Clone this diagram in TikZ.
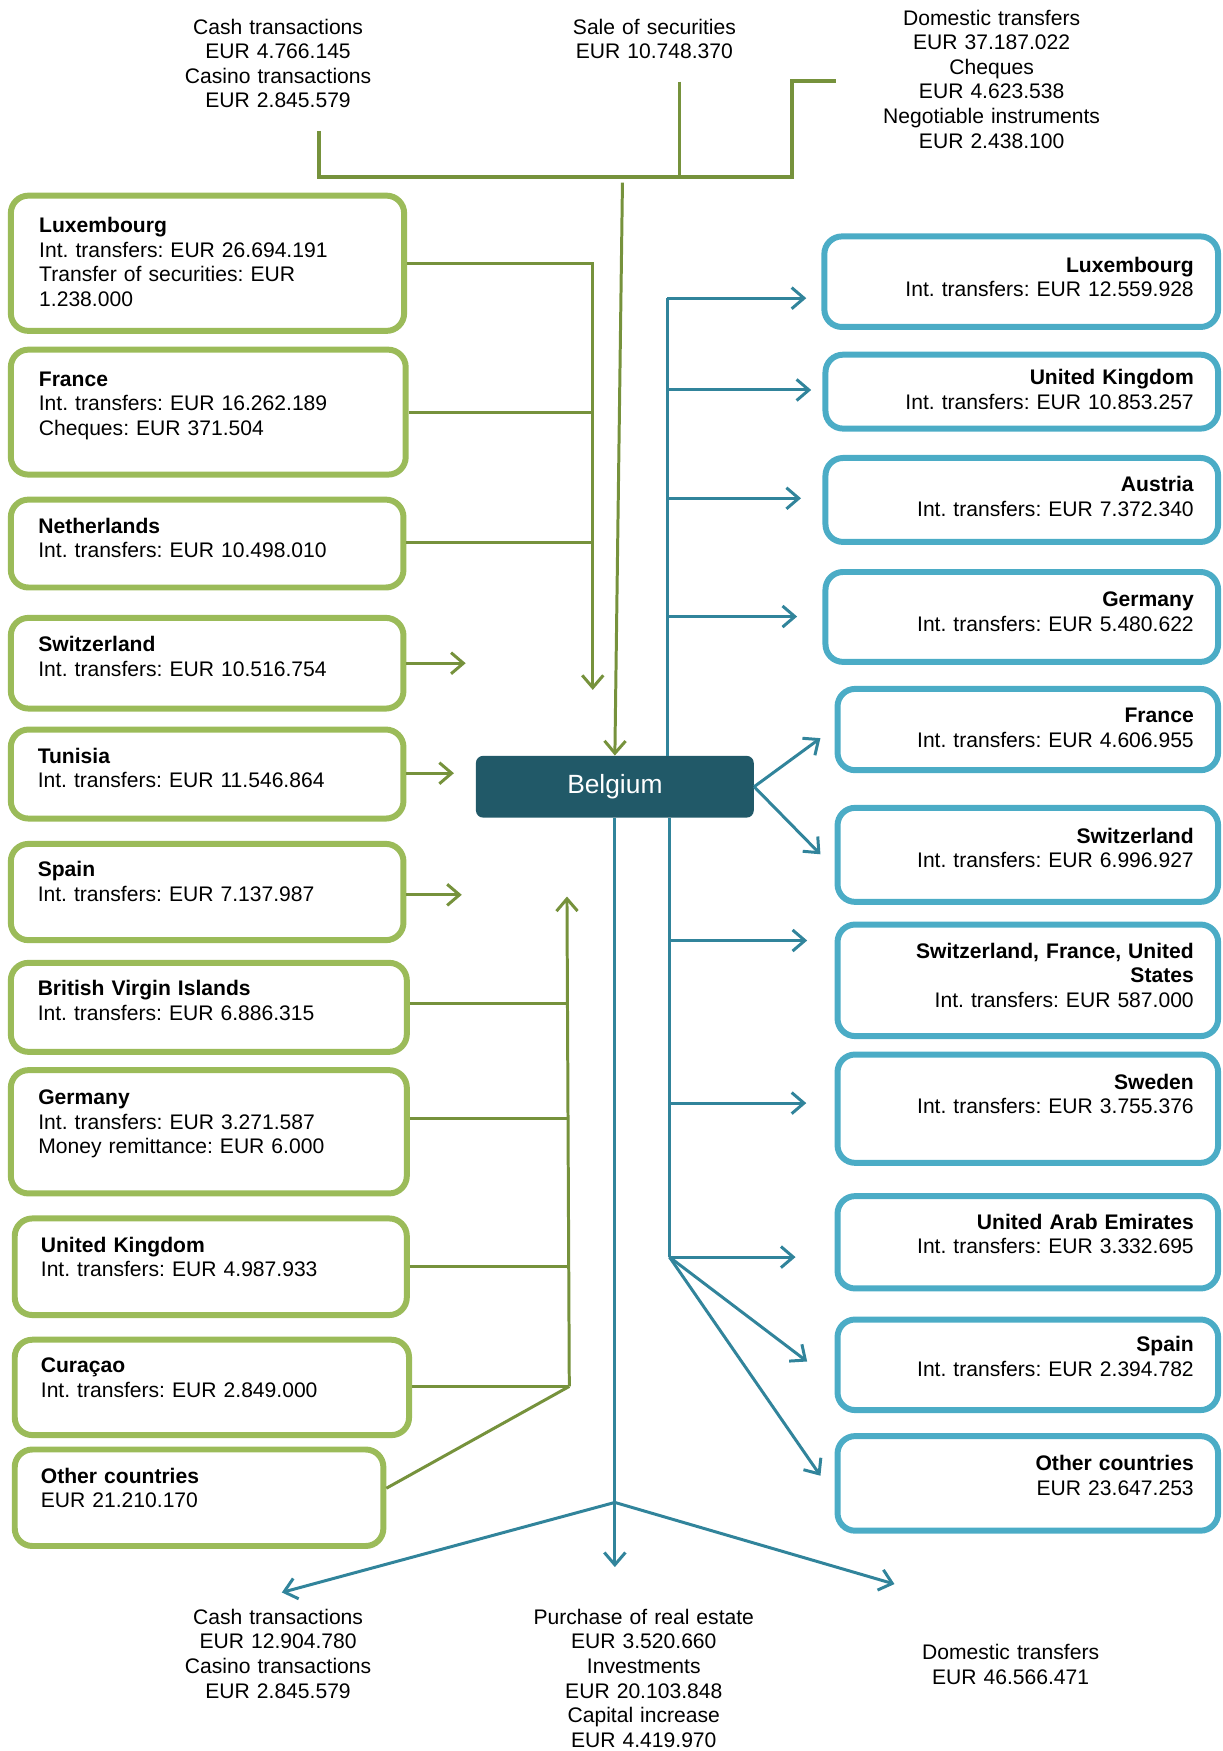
\documentclass[tikz,border=0pt]{standalone}
\usepackage{fontspec}
\setmainfont{Liberation Sans}
\usetikzlibrary{arrows.meta,fit}
\frenchspacing
\definecolor{gborder}{HTML}{9BBB59}
\definecolor{gline}{HTML}{76923C}
\definecolor{bborder}{HTML}{4BACC6}
\definecolor{bline}{HTML}{31849B}
\definecolor{belgfill}{HTML}{215968}
\newcommand\greenbox[8]{%
  \node[gbox, fit={(#2+2.7,#3+2.7) (#4-2.7,#5-2.7)}] (#1) {};
  \node[ltext] (#1t) at (#6,#7) {#8};}
\newcommand\bluebox[8]{%
  \node[bbox, fit={(#2+2.7,#3+2.7) (#4-2.7,#5-2.7)}] (#1) {};
  \node[rtext] (#1t) at (#6,#7) {#8};}
\begin{document}
\begin{tikzpicture}[x=0.6355pt,y=-0.6355pt,
 gbox/.style={draw=gborder,line width=3.4pt,rounded corners=10pt,inner sep=0pt},
 bbox/.style={draw=bborder,line width=3.4pt,rounded corners=10pt,inner sep=0pt},
 ltext/.style={anchor=base west,align=left,text width=210pt,inner sep=0pt,font=\fontsize{12}{13.9}\selectfont\frenchspacing},
 rtext/.style={anchor=base east,align=right,text width=210pt,inner sep=0pt,font=\fontsize{12}{13.9}\selectfont\frenchspacing},
 ctext/.style={anchor=base,align=center,text width=180pt,inner sep=0pt,font=\fontsize{12}{14}\selectfont\frenchspacing},
 gcon/.style={draw=gline,line width=1.7pt},
 gtop/.style={draw=gline,line width=2.3pt},
 garr/.style={gcon,-{Straight Barb[length=7pt,width=12pt]}},
 bcon/.style={draw=bline,line width=1.7pt},
 barr/.style={bcon,-{Straight Barb[length=7pt,width=12pt]}},
 belgbox/.style={fill=belgfill,rounded corners=4pt,text=white,font=\fontsize{15}{18}\selectfont,minimum width=158.1pt,minimum height=35.1pt,inner sep=0pt}
]
\useasboundingbox (0,0) rectangle (1095,1568);

% ---------- top and bottom texts ----------
\node[ctext] (topCash) at (249,30.5) {Cash transactions\\EUR 4.766.145\\Casino transactions\\EUR 2.845.579};
\node[ctext] (topSale) at (586,30.5) {Sale of securities\\EUR 10.748.370};
\node[ctext] (topDom) at (888,22.4) {Domestic transfers\\EUR 37.187.022\\Cheques\\EUR 4.623.538\\Negotiable instruments\\EUR 2.438.100};
\node[ctext] (botCash) at (249,1454.5) {Cash transactions\\EUR 12.904.780\\Casino transactions\\EUR 2.845.579};
\node[ctext] (botInv) at (576.5,1454.5) {Purchase of real estate\\EUR 3.520.660\\Investments\\EUR 20.103.848\\Capital increase\\EUR 4.419.970};
\node[ctext] (botDom) at (905,1486) {Domestic transfers\\EUR 46.566.471};

% ---------- Belgium ----------
\node[belgbox] (belg) at (550.6,704.5) {Belgium};

% ---------- left boxes ----------
\greenbox{L1}{7}{172.5}{364.6}{299}{34.8}{208.6}{\textbf{Luxembourg}\\Int. transfers: EUR 26.694.191\\Transfer of securities: EUR\\1.238.000}
\greenbox{L2}{7}{310.4}{366}{427.7}{34.5}{346}{\textbf{France}\\Int. transfers: EUR 16.262.189\\Cheques: EUR 371.504}
\greenbox{L3}{7}{444.7}{364}{528.8}{34}{477.5}{\textbf{Netherlands}\\Int. transfers: EUR 10.498.010}
\greenbox{L4}{7}{550.6}{364}{637.2}{34}{583.5}{\textbf{Switzerland}\\Int. transfers: EUR 10.516.754}
\greenbox{L5}{7}{650.6}{364}{735.7}{33.5}{683.4}{\textbf{Tunisia}\\Int. transfers: EUR 11.546.864}
\greenbox{L6}{7}{753}{364}{844.6}{33.5}{785.2}{\textbf{Spain}\\Int. transfers: EUR 7.137.987}
\greenbox{L7}{7}{859.5}{367}{944.6}{33.5}{891.8}{\textbf{British Virgin Islands}\\Int. transfers: EUR 6.886.315}
\greenbox{L8}{7}{955.6}{367}{1071.4}{34}{989.5}{\textbf{Germany}\\Int. transfers: EUR 3.271.587\\Money remittance: EUR 6.000}
\greenbox{L9}{10.5}{1088.4}{367}{1180.3}{36.3}{1121.2}{\textbf{United Kingdom}\\Int. transfers: EUR 4.987.933}
\greenbox{L10}{10.5}{1197}{369}{1287.8}{36.3}{1229.3}{\textbf{Curaçao}\\Int. transfers: EUR 2.849.000}
\greenbox{L11}{10.5}{1295.3}{346}{1387.1}{36.3}{1328.5}{\textbf{Other countries}\\EUR 21.210.170}

% ---------- right boxes ----------
\bluebox{R1}{735.5}{209}{1093.5}{295.5}{1069.3}{243.8}{\textbf{Luxembourg}\\Int. transfers: EUR 12.559.928}
\bluebox{R2}{736.5}{314.9}{1093.5}{386.5}{1069.3}{344.4}{\textbf{United Kingdom}\\Int. transfers: EUR 10.853.257}
\bluebox{R3}{736.5}{407.4}{1093.5}{488}{1069.3}{440.5}{\textbf{Austria}\\Int. transfers: EUR 7.372.340}
\bluebox{R4}{736.5}{509.5}{1093.5}{595.4}{1069.3}{543.5}{\textbf{Germany}\\Int. transfers: EUR 5.480.622}
\bluebox{R5}{747.3}{614.2}{1093.5}{692.4}{1069.3}{647.3}{\textbf{France}\\Int. transfers: EUR 4.606.955}
\bluebox{R6}{747.3}{720.7}{1093.5}{810.3}{1069.3}{755}{\textbf{Switzerland}\\Int. transfers: EUR 6.996.927}
\bluebox{R7}{747.3}{825.2}{1093.5}{930.5}{1069.3}{858.3}{\textbf{Switzerland, France, United}\\\textbf{States}\\Int. transfers: EUR 587.000}
\bluebox{R8}{747.3}{941.6}{1093.5}{1044}{1069.3}{975.3}{\textbf{Sweden}\\Int. transfers: EUR 3.755.376}
\bluebox{R9}{747.3}{1068.4}{1093.5}{1156.5}{1069.3}{1100.8}{\textbf{United Arab Emirates}\\Int. transfers: EUR 3.332.695}
\bluebox{R10}{747.3}{1178.9}{1093.5}{1265.4}{1069.3}{1210.5}{\textbf{Spain}\\Int. transfers: EUR 2.394.782}
\bluebox{R11}{747.3}{1283.3}{1093.5}{1373.4}{1069.3}{1317}{\textbf{Other countries}\\EUR 23.647.253}

% ---------- top green bracket ----------
\coordinate (tA) at (285.8,117.3);
\coordinate (tB) at (285.8,158.2);
\coordinate (tC) at (709,158.2);
\coordinate (tD) at (709,72.2);
\coordinate (tE) at (749,72.2);
\draw[gtop] (tA) -- (tB) -- (tC) -- (tD) -- (tE);
\coordinate (sA) at (608.8,73);
\coordinate (sB) at (608.8,158.2);
\draw[gcon] (sA) -- (sB);
\coordinate (dA) at (557.4,163.6);
\draw[garr] (dA) -- (belg.north);

% ---------- left green connectors ----------
\coordinate (gA1) at (530.8,236);
\coordinate (gA2) at (530.8,369.2);
\coordinate (gA3) at (530.8,485.9);
\coordinate (gAend) at (530.8,617.8);
\draw[garr] (L1.east |- gA1) -- (gA1) -- (gAend);
\draw[gcon] (L2.east |- gA2) -- (gA2);
\draw[gcon] (L3.east |- gA3) -- (gA3);
\coordinate (gS) at (417,593.9);
\coordinate (gT) at (406.5,692.4);
\coordinate (gSp) at (413.5,801.3);
\draw[garr] (L4.east |- gS) -- (gS);
\draw[garr] (L5.east |- gT) -- (gT);
\draw[garr] (L6.east |- gSp) -- (gSp);
\coordinate (gB2) at (508.2,898.9);
\coordinate (gB3) at (508.5,1001.3);
\coordinate (gB4) at (509.2,1134.1);
\coordinate (gB5) at (509.8,1241.5);
\coordinate (gBend) at (507.7,802.8);
\draw[garr] (gB5) -- (gBend);
\draw[gcon] (L7.east |- gB2) -- (gB2);
\draw[gcon] (L8.east |- gB3) -- (gB3);
\draw[gcon] (L9.east |- gB4) -- (gB4);
\draw[gcon] (L10.east |- gB5) -- (gB5);
\draw[gcon] ([yshift=5.4pt]L11.east) -- (gB5);

% ---------- right blue connectors ----------
\coordinate (bU1) at (597.5,267);
\coordinate (bU2) at (597.5,349.2);
\coordinate (bU3) at (597.5,446.2);
\coordinate (bU4) at (597.5,552.1);
\draw[bcon] (bU1) -- (belg.north -| bU1);
\coordinate (tR1) at (722,267);
\coordinate (tR2) at (726.4,349.2);
\coordinate (tR3) at (717.3,446.2);
\coordinate (tR4) at (713.8,552.1);
\draw[barr] (bU1) -- (tR1);
\draw[barr] (bU2) -- (tR2);
\draw[barr] (bU3) -- (tR3);
\draw[barr] (bU4) -- (tR4);
\coordinate (tR5) at (734.7,661);
\coordinate (tR6) at (734.7,765);
\draw[barr] (belg.east) -- (tR5);
\draw[barr] (belg.east) -- (tR6);
\coordinate (bL7) at (599.5,842.2);
\coordinate (bL8) at (599.5,987.8);
\coordinate (bJ) at (599.5,1125.7);
\draw[bcon] (belg.south -| bJ) -- (bJ);
\coordinate (tR7) at (722.8,842.2);
\coordinate (tR8) at (722,987.8);
\coordinate (tR9) at (712.4,1125.7);
\coordinate (tR10) at (722.8,1219.2);
\coordinate (tR11) at (734.7,1321.5);
\draw[barr] (bL7) -- (tR7);
\draw[barr] (bL8) -- (tR8);
\draw[barr] (bJ) -- (tR9);
\draw[barr] (bJ) -- (tR10);
\draw[barr] (bJ) -- (tR11);

% ---------- bottom blue connectors ----------
\coordinate (bApex) at (550.6,1345.4);
\coordinate (bDown) at (550.6,1403.3);
\coordinate (bLeft) at (252.4,1426);
\coordinate (bRight) at (801,1418.5);
\draw[barr] (belg.south) -- (bDown);
\draw[barr] (bApex) -- (bLeft);
\draw[barr] (bApex) -- (bRight);
\end{tikzpicture}
\end{document}
